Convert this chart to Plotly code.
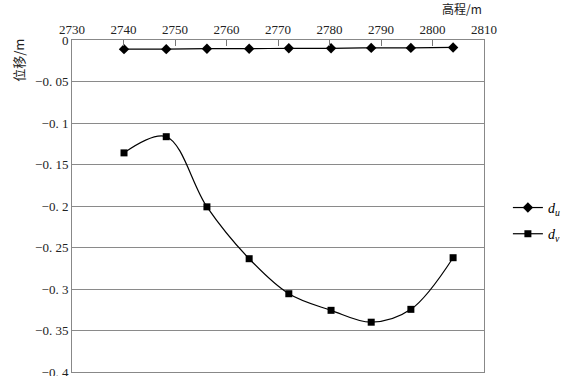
import plotly.graph_objects as go

elev = [2740.1, 2748.3, 2756.2, 2764.4, 2772.1, 2780.3, 2788.1, 2795.8, 2804.0]
du = [-0.011, -0.011, -0.0105, -0.0105, -0.010, -0.010, -0.0095, -0.0095, -0.009]
dv = [-0.136, -0.1165, -0.201, -0.2635, -0.3057, -0.3257, -0.340, -0.3245, -0.2623]

x_ticks = [2730, 2740, 2750, 2760, 2770, 2780, 2790, 2800, 2810]
y_ticks = [0, -0.05, -0.1, -0.15, -0.2, -0.25, -0.3, -0.35, -0.4]
y_labels = ["0", "−0.\u00a005", "−0.\u00a01", "−0.\u00a015", "−0.\u00a02", "−0.\u00a025",
            "−0.\u00a03", "−0.\u00a035", "−0.\u00a04"]

num_font = dict(family="Liberation Serif, serif", size=13, color="#222")

fig = go.Figure()
fig.add_trace(go.Scatter(
    x=elev, y=du, mode="lines+markers", name="<i>d</i><sub><i>u</i></sub>",
    legendgroup="u",
    line=dict(color="black", width=1.2, shape="spline", smoothing=1),
    marker=dict(symbol="diamond", size=8, color="black"),
))
fig.add_trace(go.Scatter(
    x=elev, y=dv, mode="lines+markers", name="<i>d</i><sub><i>v</i></sub>",
    legendgroup="v",
    line=dict(color="black", width=1.2, shape="spline", smoothing=1),
    marker=dict(symbol="square", size=7, color="black"),
))

fig.update_layout(
    width=565, height=376,
    margin=dict(l=72, r=81, t=40, b=4, autoexpand=False),
    paper_bgcolor="white", plot_bgcolor="white",
    showlegend=True,
    legend=dict(x=1.058, y=0.455, xanchor="left", yanchor="middle",
                font=dict(family="Liberation Serif, serif", size=14, color="black"),
                bgcolor="rgba(0,0,0,0)", tracegroupgap=5, itemwidth=30),
    xaxis=dict(
        side="top", range=[2730, 2810], tickvals=x_ticks, ticktext=[str(v) for v in x_ticks],
        ticks="inside", ticklen=6, tickcolor="#777", showgrid=False,
        showline=True, linecolor="#888", linewidth=1, mirror=True,
        tickfont=num_font, zeroline=False, automargin=False,
    ),
    yaxis=dict(
        range=[-0.4, 0], tickvals=y_ticks, ticktext=y_labels,
        showgrid=True, gridcolor="#8a8a8a", gridwidth=1,
        showline=True, linecolor="#888", linewidth=1, mirror=True,
        ticks="", tickfont=num_font, zeroline=False, ticklabeloverflow="allow",
        automargin=False,
    ),
    annotations=[
        dict(text="位移/m", x=-0.129, y=0.94, xref="paper", yref="paper",
             xanchor="center", yanchor="middle",
             textangle=-90, showarrow=False,
             font=dict(family="Noto Sans CJK SC", size=13, color="#222")),
        dict(text="高程/m", x=1.0, y=1.0, xref="paper", yref="paper",
             xanchor="right", yanchor="middle", yshift=32, showarrow=False,
             font=dict(family="Noto Sans CJK SC", size=12, color="#222")),
    ],
)

fig.write_html("out.html")
